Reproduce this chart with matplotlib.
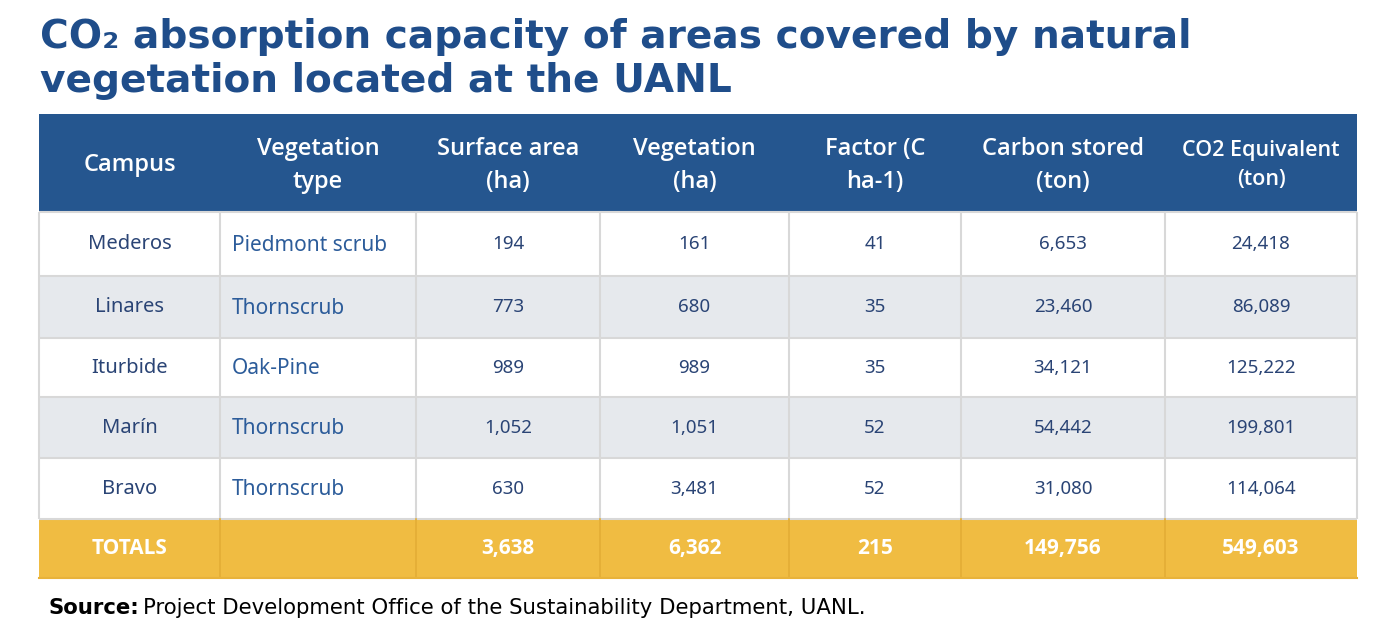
import matplotlib
matplotlib.use("Agg")
import matplotlib.pyplot as plt
from matplotlib.patches import Rectangle

# -------------------------
# Table data
# -------------------------
headers = ["Campus", "Vegetation\ntype", "Surface area\n(ha)", "Vegetation\n(ha)",
           "Factor (C\nha-1)", "Carbon stored\n(ton)", "CO2 Equivalent\n(ton)"]
campus = ["Mederos", "Linares", "Iturbide", "Marín", "Bravo"]
veg_type = ["Piedmont scrub", "Thornscrub", "Oak-Pine", "Thornscrub", "Thornscrub"]
surface = [194, 773, 989, 1052, 630]
vegetation = [161, 680, 989, 1051, 3481]
factor = [41, 35, 35, 52, 52]
carbon = [6653, 23460, 34121, 54442, 31080]
co2 = [24418, 86089, 125222, 199801, 114064]
totals = [3638, 6362, 215, 149756, 549603]

# -------------------------
# Layout (pixels)
# -------------------------
W, H = 1390, 644
col_edges = [39, 220, 416, 600, 789, 961, 1165, 1357]
row_edges = [114, 212, 276, 338, 397, 458, 519, 578]

NAVY = "#1f4d8a"
HEAD = "#25568f"
TEXT = "#2a4475"
VEG = "#2c5c9a"
STRIPE = "#e6e9ed"
GOLD = "#f0bc42"
GRID = "#d8d8d8"

fig = plt.figure(figsize=(W / 100, H / 100), dpi=100)
ax = fig.add_axes([0, 0, 1, 1])
ax.set_xlim(0, W)
ax.set_ylim(H, 0)
ax.axis("off")

# title
ax.text(40, 48, "CO\u2082 absorption capacity of areas covered by natural",
        fontsize=28.2, fontweight="bold", family="DejaVu Sans", color=NAVY, va="baseline")
ax.text(40, 92, "vegetation located at the UANL",
        fontsize=28.2, fontweight="bold", family="DejaVu Sans", color=NAVY, va="baseline")

# header
x0, x1 = col_edges[0], col_edges[-1]
ax.add_patch(Rectangle((x0, row_edges[0]), x1 - x0, row_edges[1] - row_edges[0],
                       color=HEAD, lw=0))
for i, h in enumerate(headers):
    cx = (col_edges[i] + col_edges[i + 1]) / 2
    cy = (row_edges[0] + row_edges[1]) / 2 + 2
    fs = 15.5 if i == 6 else 17
    ax.text(cx, cy, h, ha="center", va="center", color="white", fontsize=fs,
            fontweight="semibold", family="Open Sans", linespacing=1.5)

# body rows
rows = list(zip(campus, veg_type, surface, vegetation, factor, carbon, co2))
for r, row in enumerate(rows):
    y0, y1 = row_edges[r + 1], row_edges[r + 2]
    bg = STRIPE if r % 2 == 1 else "white"
    ax.add_patch(Rectangle((x0, y0), x1 - x0, y1 - y0, color=bg, lw=0))
    cy = (y0 + y1) / 2
    for c, val in enumerate(row):
        if c == 1:
            ax.text(col_edges[1] + 12, cy + 1, val, ha="left", va="center",
                    color=VEG, fontsize=15, family="Noto Sans")
        else:
            txt = val if isinstance(val, str) else f"{val:,}"
            cx = (col_edges[c] + col_edges[c + 1]) / 2
            fs = 14.5 if c == 0 else 13.5
            ax.text(cx, cy, txt, ha="center", va="center", color=TEXT,
                    fontsize=fs, family="Noto Sans")

# totals row
y0, y1 = row_edges[-2], row_edges[-1]
ax.add_patch(Rectangle((x0, y0), x1 - x0, y1 - y0, color=GOLD, lw=0))
cy = (y0 + y1) / 2
ax.text((col_edges[0] + col_edges[1]) / 2, cy, "TOTALS", ha="center", va="center",
        color="white", fontsize=15, fontweight="bold", family="Open Sans")
for c, val in enumerate(totals):
    cx = (col_edges[c + 2] + col_edges[c + 3]) / 2
    ax.text(cx, cy, f"{val:,}", ha="center", va="center", color="white",
            fontsize=15, fontweight="bold", family="Open Sans")

# grid lines
for xe in col_edges:
    ax.plot([xe, xe], [row_edges[1], row_edges[-2]], color=GRID, lw=1.5,
            solid_capstyle="butt")
for ye in row_edges[1:-1]:
    ax.plot([x0, x1], [ye, ye], color=GRID, lw=1.5, solid_capstyle="butt")
# gold row inner lines
for xe in col_edges[1:-1]:
    ax.plot([xe, xe], [row_edges[-2], row_edges[-1]], color="#e3ad35", lw=1.2)
ax.plot([x0, x1], [row_edges[-1], row_edges[-1]], color="#e8b23a", lw=1.5)

# source
ax.text(48, 614, "Source:", fontsize=15.3, fontweight="bold", family="DejaVu Sans",
        color="black", va="baseline")
ax.text(143, 614, "Project Development Office of the Sustainability Department, UANL.",
        fontsize=15.3, family="DejaVu Sans", color="black", va="baseline")

fig.savefig("out.png", dpi=100)
